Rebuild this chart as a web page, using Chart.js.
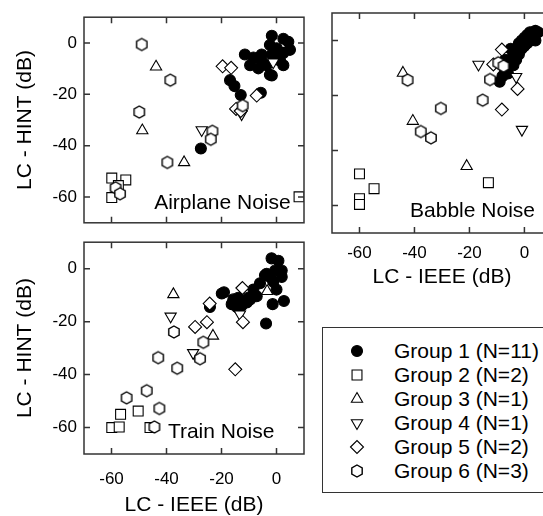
<!DOCTYPE html>
<html>
<head>
<meta charset="utf-8">
<title>LC - HINT vs LC - IEEE</title>
<script src="https://cdn.jsdelivr.net/npm/chart.js"></script>
<style>
  html, body { margin: 0; padding: 0; background: #fff; overflow: hidden; width: 543px; height: 516px; }
  body { position: relative; font-family: 'Liberation Sans', Arial, sans-serif; color: #000; }
  canvas.panel { position: absolute; }
  #legendBox { position: absolute; left: 322px; top: 327px; width: 240px; height: 166px; border: 1.5px solid #333; box-sizing: border-box; }
  #legendMarks { position: absolute; left: 337px; top: 327px; }
  .legendText { position: absolute; left: 394px; font-size: 21px; line-height: 24px; white-space: nowrap; }
</style>
</head>
<body>
<canvas id="airplane" class="panel" width="320" height="240" style="left:0;top:0"></canvas>
<canvas id="babble" class="panel" width="240" height="300" style="left:320px;top:0"></canvas>
<canvas id="train" class="panel" width="320" height="300" style="left:0;top:225px"></canvas>
<div id="legendBox"></div>
<canvas id="legendMarks" width="40" height="166"></canvas>

<script>
// tick values shared by all panels
const xTickValues = [-60, -40, -20, 0];
const yTickValues = [-60, -40, -20, 0];

const groupLabels = ['Group 1 (N=11)', 'Group 2 (N=2)', 'Group 3 (N=1)', 'Group 4 (N=1)', 'Group 5 (N=2)', 'Group 6 (N=3)'];
const panelNames = ['Airplane Noise', 'Babble Noise', 'Train Noise'];

// Airplane Noise: [LC-IEEE, LC-HINT]
const airplaneG1 = [[-27.5, -41.1], [-16.9, -14.5], [-15.3, -16.8], [-13, -20.3], [-5.7, -19.4],
  [-11.5, -4.5], [-8.4, -5.7], [-5.4, -4.5], [-9.6, -8.7], [-6.6, -9.9], [-2.4, -12.4], [-1.7, -12.7],
  [-3.6, -8.7], [2.5, -8.7], [-1.7, 2.8], [2.5, 1.6], [4.3, 0.4], [-2.4, -0.8], [0.1, -2.1],
  [2.5, -3.9], [4.9, -2.7], [0, -5.1], [-1.7, -4.5], [1.3, -6.9], [-5.4, -6.9]];
const airplaneG2 = [[-59.9, -52.6], [-54.8, -53.3], [-57.5, -55.5], [-59.9, -60.2], [8.2, -59.9]];
const airplaneG3 = [[-43.8, -9.3], [-48.8, -34.1], [-33.6, -46.5]];
const airplaneG4 = [[-27.2, -33.9], [-1.2, -7.5], [-12.7, -27.7]];
const airplaneG5 = [[-19.6, -9.1], [-16.5, -9.7], [-7.2, -20.5], [-14.7, -25.7], [-13, -26.5]];
const airplaneG6 = [[-49, -0.6], [-38.6, -14.5], [-49.9, -26.9], [-39.7, -46.5], [-23.3, -34.4],
  [-23.9, -37.5], [-12.3, -24.4], [-58.5, -56.4], [-56.9, -58.7]];

// Babble Noise
const babbleG1 = [[-9, -15], [-8, -13], [-6, -12], [-7, -11], [-6, -9], [-4, -9], [-7, -7], [-5, -7],
  [-3, -7], [-4, -5], [-2, -5], [-5, -3], [-3, -3], [-1, -3], [-2, -1], [0, -2], [-1, 0], [1, -1],
  [0, 1], [2, 0], [1, 2], [3, 1], [2, 3], [4, 0], [3, 3], [4, 3.5], [5, 3]];
const babbleG2 = [[-60, -48.5], [-54.7, -53.9], [-60, -57.5], [-60, -59.6], [-13.1, -51.7]];
const babbleG3 = [[-44.2, -11.8], [-40.6, -29.3], [-21, -45.7]];
const babbleG4 = [[-16.7, -8.7], [-0.9, -32.4], [-3, -13.2]];
const babbleG5 = [[-8.2, -3.3], [-11.3, -8.7], [-2.5, -17.6], [-8.2, -25.1]];
const babbleG6 = [[-42.5, -14.4], [-30.4, -24.7], [-37.7, -33.1], [-34, -35.4], [-15.2, -21.7],
  [-12.5, -14.2], [-9.5, -8.1], [-7.6, -9.3]];

// Train Noise
const trainG1 = [[-19.9, -9.4], [-19.1, -8.9], [-16.3, -13.4], [-14.3, -14.6], [-13.9, -11],
  [-10.3, -11], [-8.4, -7.9], [-6, -5.5], [-3.6, -1.9], [-1.8, 3.9], [0.7, 3], [1.9, -0.7],
  [1.9, -3.1], [0, -7.9], [2.7, -12.2], [-1.4, -13.4], [-3.8, -20.7], [-7.2, -10.4], [-10.8, -12.8],
  [-1.2, -4.9], [-0.5, -0.7], [-2.4, -3.1], [-15.7, -11.6], [-24.2, -14.5], [-12.7, -14],
  [-9.6, -11.6], [-4.2, -2.5]];
const trainG2 = [[-59.9, -60], [-57.2, -59.8], [-56.7, -55], [-50.3, -53.8], [-46, -60]];
const trainG3 = [[-37.5, -9.7], [-23.1, -25.4], [-3.4, -8.5]];
const trainG4 = [[-38.5, -18], [-30.3, -31.8], [-13.3, -17.2]];
const trainG5 = [[-29.6, -22], [-25.3, -20.2], [-24.3, -13.2], [-15, -38], [-12.4, -7.3], [-12.2, -20.2]];
const trainG6 = [[-37.3, -23.9], [-43, -33.6], [-36.1, -37.6], [-47.2, -46.1], [-54.5, -48.8],
  [-42.6, -52.8], [-44.4, -59.8], [-26.6, -27.8], [-27.8, -34]];

// where each panel's name starts (data coords, left edge / vertical middle)
const panelNameAnchors = [[-44.5, -62.2], [-41.6, -62.2], [-39.5, -61.9]];

const FONT = "'Liberation Sans', Arial, sans-serif";
Chart.defaults.font.family = FONT;
Chart.defaults.color = '#000';

// hexagon marker (no built-in style for it)
function makeHexagon(r) {
  const c = document.createElement('canvas');
  c.width = c.height = Math.ceil(2 * r + 4);
  const g = c.getContext('2d');
  const cx = c.width / 2, cy = c.height / 2;
  g.beginPath();
  for (let k = 0; k < 6; k++) {
    const a = (-90 + 60 * k) * Math.PI / 180;
    const px = cx + r * Math.cos(a), py = cy + r * Math.sin(a);
    if (k === 0) g.moveTo(px, py); else g.lineTo(px, py);
  }
  g.closePath();
  g.fillStyle = '#fff';
  g.fill();
  g.lineWidth = 1.4;
  g.strokeStyle = '#000';
  g.stroke();
  return c;
}
const hexagon = makeHexagon(6);

const groupStyles = [
  { pointStyle: 'circle', radius: 5.5, rotation: 0, fill: '#000' },
  { pointStyle: 'rect', radius: 7, rotation: 0, fill: '#fff' },
  { pointStyle: 'triangle', radius: 6.5, rotation: 0, fill: '#fff' },
  { pointStyle: 'triangle', radius: 6.5, rotation: 180, fill: '#fff' },
  { pointStyle: 'rectRot', radius: 6.5, rotation: 0, fill: '#fff' },
  { pointStyle: hexagon, radius: 6, rotation: 0, fill: '#fff' }
];

function buildDatasets(groups) {
  return groups.map((pts, i) => ({
    label: groupLabels[i],
    data: pts.map(p => ({ x: p[0], y: p[1] })),
    pointStyle: groupStyles[i].pointStyle,
    pointRadius: groupStyles[i].radius,
    pointRotation: groupStyles[i].rotation,
    backgroundColor: groupStyles[i].fill,
    borderColor: '#000',
    borderWidth: 1.1,
    order: i === 0 ? 10 : 6 - i
  }));
}

// box round the plot with ticks pointing inward
const framePlugin = {
  id: 'frame',
  afterDatasetsDraw(chart) {
    const { ctx, chartArea: a, scales: { x, y } } = chart;
    ctx.save();
    ctx.strokeStyle = '#333';
    ctx.lineWidth = 1.5;
    ctx.strokeRect(a.left, a.top, a.right - a.left, a.bottom - a.top);
    ctx.beginPath();
    x.ticks.forEach(t => {
      const px = x.getPixelForValue(t.value);
      ctx.moveTo(px, a.bottom); ctx.lineTo(px, a.bottom - 6);
      ctx.moveTo(px, a.top); ctx.lineTo(px, a.top + 6);
    });
    y.ticks.forEach(t => {
      const py = y.getPixelForValue(t.value);
      ctx.moveTo(a.left, py); ctx.lineTo(a.left + 6, py);
      ctx.moveTo(a.right, py); ctx.lineTo(a.right - 6, py);
    });
    ctx.stroke();
    ctx.restore();
  }
};

const panelNamePlugin = {
  id: 'panelName',
  afterDraw(chart, args, opts) {
    const { ctx, scales: { x, y } } = chart;
    ctx.save();
    ctx.font = '21px ' + FONT;
    ctx.fillStyle = '#000';
    ctx.textAlign = 'left';
    ctx.textBaseline = 'middle';
    ctx.fillText(opts.text, x.getPixelForValue(opts.at[0]), y.getPixelForValue(opts.at[1]));
    ctx.restore();
  }
};

function makePanel(id, groups, p) {
  return new Chart(document.getElementById(id), {
    type: 'scatter',
    data: { datasets: buildDatasets(groups) },
    plugins: [framePlugin, panelNamePlugin],
    options: {
      responsive: false,
      animation: false,
      events: [],
      layout: { padding: p.padding },
      plugins: {
        legend: { display: false },
        tooltip: { enabled: false },
        panelName: { text: p.name, at: p.nameAt }
      },
      scales: {
        x: {
          type: 'linear', min: -70, max: 10,
          afterBuildTicks: s => { s.ticks = xTickValues.map(v => ({ value: v })); },
          afterFit: s => { s.height = p.xHeight; },
          grid: { display: false, drawTicks: false },
          border: { display: false },
          ticks: { display: p.xLabels, font: { size: 17 }, padding: p.xTickPad, autoSkip: false, maxRotation: 0, callback: v => String(v) },
          title: { display: p.xLabels, text: 'LC - IEEE (dB)', font: { size: 21 }, padding: { top: 0, bottom: p.xTitlePad } }
        },
        y: {
          type: 'linear', min: -70, max: 10,
          afterBuildTicks: s => { s.ticks = yTickValues.map(v => ({ value: v })); },
          afterFit: s => { s.width = p.yWidth; },
          grid: { display: false, drawTicks: false },
          border: { display: false },
          ticks: { display: p.yLabels, font: { size: 17 }, padding: 7, autoSkip: false, callback: v => String(v) },
          title: { display: p.yLabels, text: 'LC - HINT (dB)', font: { size: 21 }, padding: { top: 12.4, bottom: 0 } }
        }
      }
    }
  });
}

makePanel('airplane', [airplaneG1, airplaneG2, airplaneG3, airplaneG4, airplaneG5, airplaneG6], {
  padding: { left: 0, top: 13, right: 16, bottom: 7 },
  xHeight: 0, xLabels: false, xTickPad: 0, xTitlePad: 0,
  yWidth: 84, yLabels: true,
  name: panelNames[0], nameAt: panelNameAnchors[0]
});
makePanel('babble', [babbleG1, babbleG2, babbleG3, babbleG4, babbleG5, babbleG6], {
  padding: { left: 0, top: 13, right: 8, bottom: 0 },
  xHeight: 67, xLabels: true, xTickPad: 10, xTitlePad: 10.4,
  yWidth: 12, yLabels: false,
  name: panelNames[1], nameAt: panelNameAnchors[1]
});
makePanel('train', [trainG1, trainG2, trainG3, trainG4, trainG5, trainG6], {
  padding: { left: 0, top: 8, right: 16, bottom: 0 },
  xHeight: 71, xLabels: true, xTickPad: 15.5, xTitlePad: 7.4,
  yWidth: 84, yLabels: true,
  name: panelNames[2], nameAt: panelNameAnchors[2]
});

// legend: markers on a small canvas, labels as text
const lg = document.getElementById('legendMarks').getContext('2d');
groupLabels.forEach((label, i) => {
  const cy = 24 + 23.9 * i;
  const st = groupStyles[i];
  lg.fillStyle = st.fill;
  lg.strokeStyle = '#000';
  lg.lineWidth = 1.1;
  Chart.helpers.drawPoint(lg, { pointStyle: st.pointStyle, radius: st.radius, rotation: st.rotation, borderWidth: 1 }, 20, Math.round(cy));
  const t = document.createElement('div');
  t.className = 'legendText';
  t.style.top = (327 + cy - 12) + 'px';
  t.textContent = label;
  document.body.appendChild(t);
});
</script>
</body>
</html>
